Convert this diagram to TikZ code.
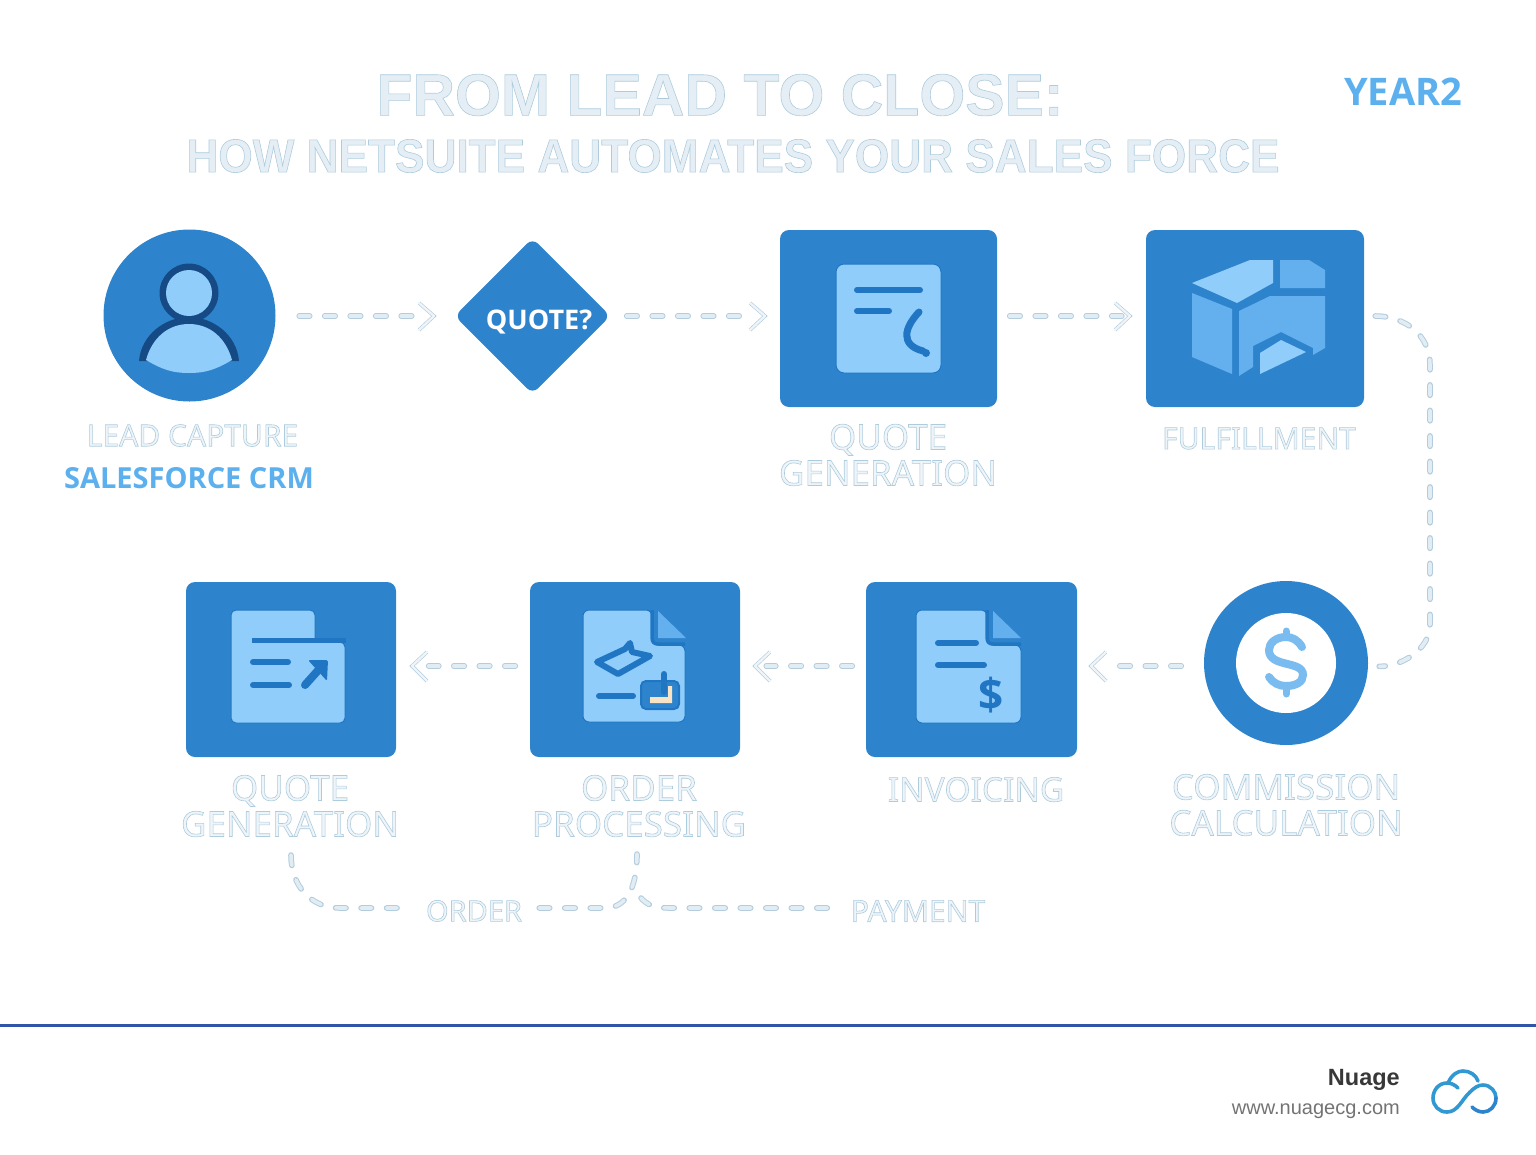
\documentclass[tikz,border=0pt]{standalone}
\usepackage{fontspec}
\usetikzlibrary{shapes.geometric}
\setmainfont{Liberation Sans}
\newfontfamily\lblfont{Noto Sans}
\newfontfamily\capfont{Open Sans}
\definecolor{boxblue}{HTML}{2E84CC}
\definecolor{skyfill}{HTML}{90CDFB}
\definecolor{midsky}{HTML}{64B0EE}
\definecolor{inkblue}{HTML}{2176C4}
\definecolor{navyline}{HTML}{164A85}
\definecolor{ghostfill}{HTML}{EEF4F8}
\definecolor{ghostedge}{HTML}{B4CDDE}
\definecolor{accentblue}{HTML}{5CB0EE}
\definecolor{ruleblue}{HTML}{2F55A8}
\definecolor{creamfill}{HTML}{F8E3C5}
\newcommand{\ghosttext}[1]{\special{pdf:code 2 Tr 0.6 w 0.68 0.80 0.87 RG}#1\special{pdf:code 0 Tr}}
\tikzset{
  blockbox/.style={fill=boxblue,rounded corners=9pt,inner sep=0pt},
  roundbox/.style={circle,fill=boxblue,inner sep=0pt},
  ghostlabel/.style={text=ghostfill,align=center,inner sep=0pt,font=\lblfont\fontsize{35}{36}\selectfont},
  ghosttitle/.style={text=ghostfill!85!ghostedge,inner sep=0pt},
  ghostflow/.style={line cap=round,
    preaction={draw=ghostedge,line width=5.6pt,dash pattern=on 10.5pt off 15pt,line cap=round},
    draw=ghostfill!80!ghostedge,line width=3.6pt,dash pattern=on 10.5pt off 15pt},
  ghosttip/.style={line cap=round,line join=round,
    preaction={draw=ghostedge,line width=3.6pt},draw=ghostfill,line width=2.3pt},
  sheet/.style={fill=skyfill,draw=inkblue,line width=1pt,rounded corners=6pt},
  inkline/.style={draw=inkblue,line width=6pt,line cap=round,line join=round},
}
\begin{document}
\begin{tikzpicture}[x=1pt,y=-1pt]
\useasboundingbox (0,0) rectangle (1536,1154);
\coordinate (upflow) at (0,316);
\coordinate (lowflow) at (0,666);
% title
\node[ghosttitle,font=\bfseries\fontsize{59}{59}\selectfont] (titlenode) at (720,95) {\ghosttext{FROM LEAD TO CLOSE:}};
\node[ghosttitle,font=\bfseries\fontsize{47}{47}\selectfont\addfontfeature{FakeStretch=0.94}] (subtitlenode) at (733,156) {\ghosttext{HOW NETSUITE AUTOMATES YOUR SALES FORCE}};
\node[text=accentblue,inner sep=0pt,font=\capfont\bfseries\fontsize{38}{38}\selectfont] (yearnode) at (1403,92) {YEAR2};
% upper row
\node[roundbox,minimum size=172pt] (leadnode) at (189.5,315.5) {};
\node[diamond,aspect=1,fill=boxblue,rounded corners=8pt,inner sep=0pt,minimum width=156pt,minimum height=156pt] (asknode) at (532.5,316) {};
\node[text=white,inner sep=0pt,font=\capfont\bfseries\fontsize{27}{27}\selectfont] (asklabel) at (539,321.5) {QUOTE?};
\node[blockbox,minimum width=217pt,minimum height=177pt] (quotenode) at (888.5,318.5) {};
\node[blockbox,minimum width=218pt,minimum height=177pt] (fulfillnode) at (1255,318.5) {};
% lower row
\node[roundbox,minimum size=164pt] (commnode) at (1286,663) {};
\node[circle,fill=white,inner sep=0pt,minimum size=100pt] (commhole) at (commnode) {};
\node[blockbox,minimum width=211pt,minimum height=175pt] (invoicenode) at (971.5,669.5) {};
\node[blockbox,minimum width=210pt,minimum height=175pt] (ordernode) at (635,669.5) {};
\node[blockbox,minimum width=210pt,minimum height=175pt] (requotenode) at (291,669.5) {};
% labels
\node[ghostlabel,font=\lblfont\fontsize{30}{30}\selectfont] (leadlabel) at (192.5,435.5) {\ghosttext{LEAD CAPTURE}};
\node[text=accentblue,inner sep=0pt,font=\capfont\bfseries\fontsize{29}{29}\selectfont] (crmlabel) at (189,478) {SALESFORCE CRM};
\node[ghostlabel] (quotelabel) at (888,455) {\ghosttext{QUOTE\\GENERATION}};
\node[ghostlabel,font=\lblfont\fontsize{30}{30}\selectfont] (fulfilllabel) at (1259,438.5) {\ghosttext{FULFILLMENT}};
\node[ghostlabel] (requotelabel) at (290,806) {\ghosttext{QUOTE\\GENERATION}};
\node[ghostlabel] (orderlabel) at (639,806) {\ghosttext{ORDER\\PROCESSING}};
\node[ghostlabel,font=\lblfont\fontsize{33.5}{34}\selectfont] (invoicelabel) at (976,789.5) {\ghosttext{INVOICING}};
\node[ghostlabel] (commlabel) at (1286,805) {\ghosttext{COMMISSION\\CALCULATION}};
\node[ghostlabel,font=\lblfont\fontsize{29}{29}\selectfont] (ordertag) at (474,911) {\ghosttext{ORDER}};
\node[ghostlabel,font=\lblfont\fontsize{30}{30}\selectfont] (paytag) at (918,911) {\ghosttext{PAYMENT}};
% person
\fill[navyline] (139,361) .. controls (141,335) and (165,317) .. (189,317) .. controls (213,317) and (237,335) .. (239,361) -- cycle;
\fill[skyfill] (146,360) .. controls (152,338) and (168,324) .. (189,324) .. controls (210,324) and (226,338) .. (232,360) .. controls (215,370) and (205,373) .. (189,373) .. controls (173,373) and (163,370) .. (146,360) -- cycle;
\fill[navyline] (189,293) circle [radius=29.5];
\fill[skyfill] (189,293) circle [radius=23];
% quote sheet
\draw[sheet,rounded corners=8pt] (836,264) rectangle (941,373);
\draw[inkline] (857,290) -- (920,290);
\draw[inkline] (857,311) -- (889,311);
\draw[inkline,line width=7pt] (919,312) .. controls (904,328) and (900,345) .. (923,351);
\fill[inkblue] (926,353) circle [radius=4];
% warehouse
\fill[skyfill] (1192,283) -- (1250,260) -- (1273,260) -- (1273,283) -- (1237,303) -- cycle;
\fill[midsky] (1280,260) -- (1309,260) -- (1325,270) -- (1325,288) -- (1280,288) -- cycle;
\fill[midsky] (1192,293) -- (1232,309) -- (1232,374) -- (1192,357) -- cycle;
\fill[midsky] (1239,311) -- (1270,296) -- (1325,296) -- (1325,348) -- (1313,355) -- (1313,348) -- (1281,332) -- (1253,346) -- (1253,367) -- (1239,376) -- cycle;
\fill[skyfill] (1260,353) -- (1281,340) -- (1306,352) -- (1260,374) -- cycle;
% folder with arrow
\draw[sheet,rounded corners=5pt] (231,610) -- (315,610) -- (315,642) -- (345,642) -- (345,723) -- (231,723) -- cycle;
\draw[inkblue,line width=5pt] (252,640) -- (346,640);
\draw[inkline] (253,662) -- (288,662);
\draw[inkline] (253,685) -- (289,685);
\draw[inkline,line width=8pt] (305,685) -- (322,666);
\fill[inkblue,rounded corners=1.5pt] (308,660) -- (328,660) -- (327,681) -- cycle;
% order sheet
\draw[sheet] (583,610) -- (652,610) -- (652,645) -- (685,645) -- (685,722) -- (583,722) -- cycle;
\fill[midsky] (658,611) -- (686,638) -- (658,638) -- cycle;
\draw[inkblue,line width=3.5pt,line join=round] (652,610) -- (652,637) .. controls (652,642) and (654,644) .. (658,644) -- (685,644);
\draw[inkline] (597,662) -- (625,649) -- (630,643) -- (632,652) -- (650,656) -- (618,674) -- cycle;
\draw[inkline] (599,696) -- (633,696);
\draw[fill=boxblue,draw=inkblue,line width=2pt,rounded corners=5pt] (641,681) rectangle (679,709);
\draw[inkline] (664,674) -- (664,692);
\fill[creamfill] (672,686) -- (672,703) -- (650,703) -- (650,697) -- (668,697) -- (668,686) -- cycle;
% invoice sheet
\draw[sheet] (916,610) -- (987,610) -- (987,645) -- (1021,645) -- (1021,723) -- (916,723) -- cycle;
\fill[midsky] (993,611) -- (1021,638) -- (993,638) -- cycle;
\draw[inkblue,line width=3.5pt,line join=round] (987,610) -- (987,637) .. controls (987,642) and (989,644) .. (993,644) -- (1021,644);
\foreach \y/\xend in {643/976,665/984}
\draw[inkline] (938,\y) -- (\xend,\y);
\node[text=inkblue,inner sep=0pt,font=\capfont\bfseries\fontsize{44}{44}\selectfont] (invoicedollar) at (991,695) {\$};
% dollar sign
\draw[midsky!85!white,line width=8pt,line cap=round] (1302,647) .. controls (1298,640) and (1292,637) .. (1286,637) .. controls (1276,637) and (1269,643) .. (1269,650) .. controls (1269,668) and (1303,660) .. (1303,675) .. controls (1303,682) and (1296,686) .. (1286,686) .. controls (1279,686) and (1273,683) .. (1269,677);
\draw[midsky!85!white,line width=7pt,line cap=round] (1286,631) -- (1286,637);
\draw[midsky!85!white,line width=7pt,line cap=round] (1286,686) -- (1286,694);
% connectors
\draw[ghostflow,shorten <=23.5pt,shorten >=40pt] (upflow -| leadnode.east) -- (upflow -| asknode.west);
\draw[ghostflow,shorten <=16pt,shorten >=40pt] (upflow -| asknode.east) -- (upflow -| quotenode.west);
\draw[ghostflow,shorten <=12.5pt,shorten >=24pt] (upflow -| quotenode.east) -- (upflow -| fulfillnode.west);
\draw[ghosttip] (419,303) -- (434,316) -- (419,330);
\draw[ghosttip] (750,303) -- (765,316) -- (750,330);
\draw[ghosttip] (1115,303) -- (1130,316) -- (1115,330);
\coordinate (railtop) at (1430,365);
\coordinate (railbot) at (1430,625);
\draw[ghostflow,shorten <=11pt,shorten >=11pt] (upflow -| fulfillnode.east) .. controls (1405,316) and (1430,335) .. (railtop) -- (railbot) .. controls (1430,650) and (1400,667) .. (commnode.east |- lowflow);
\draw[ghostflow,shorten <=22.5pt,shorten >=40pt] (lowflow -| commnode.west) -- (lowflow -| invoicenode.east);
\draw[ghostflow,shorten <=13.5pt,shorten >=26pt] (lowflow -| invoicenode.west) -- (lowflow -| ordernode.east);
\draw[ghostflow,shorten <=14.5pt,shorten >=32.5pt] (lowflow -| ordernode.west) -- (lowflow -| requotenode.east);
\draw[ghosttip] (1106,652) -- (1091,666) -- (1106,681);
\draw[ghosttip] (770,652) -- (755,666) -- (770,681);
\draw[ghosttip] (427,652) -- (412,666) -- (427,681);
\coordinate (ordermid) at (641,898);
\draw[ghostflow,shorten <=8pt,shorten >=24pt] (291,847) .. controls (291,885) and (310,908) .. (340,908) -- (ordertag.west |- 0,908);
\draw[ghostflow,shorten <=17pt,shorten >=4pt] (ordertag.east |- 0,908) -- (605,908) .. controls (625,908) and (637,890) .. (637,850);
\draw[ghostflow,shorten >=20pt] (ordermid) .. controls (647,905) and (655,908) .. (670,908) -- (paytag.west |- 0,908);
% footer
\coordinate (ruleleft) at (0,1025);
\coordinate (ruleright) at (1536,1025);
\draw[ruleblue,line width=3pt] (ruleleft) -- (ruleright);
\node[anchor=east,inner sep=0pt,text=black!78,font=\bfseries\fontsize{23.5}{23.5}\selectfont] (brandnode) at (1400,1080) {Nuage};
\node[anchor=east,inner sep=0pt,text=black!55,font=\fontsize{20}{20}\selectfont] (urlnode) at (1400,1111) {www.nuagecg.com};
\draw[color=cyan!50!boxblue,line width=3.6pt,line cap=round] (1448,1083) .. controls (1452,1074) and (1458,1071) .. (1463,1071) .. controls (1470,1071) and (1476,1075) .. (1478,1081);
\draw[color=cyan!50!boxblue,line width=3.6pt,line cap=round] (1458,1088) .. controls (1454,1084) and (1450,1083) .. (1447,1083) .. controls (1438,1083) and (1433,1091) .. (1433,1098) .. controls (1433,1106) and (1439,1112) .. (1447,1112) .. controls (1458,1112) and (1462,1099) .. (1470,1092) .. controls (1474,1088) and (1478,1085) .. (1483,1085) .. controls (1491,1085) and (1496,1092) .. (1496,1098);
\draw[color=boxblue,line width=3.6pt,line cap=round] (1496,1098) .. controls (1496,1106) and (1490,1112) .. (1483,1112) .. controls (1479,1112) and (1475,1110) .. (1472,1107);
\end{tikzpicture}
\end{document}
